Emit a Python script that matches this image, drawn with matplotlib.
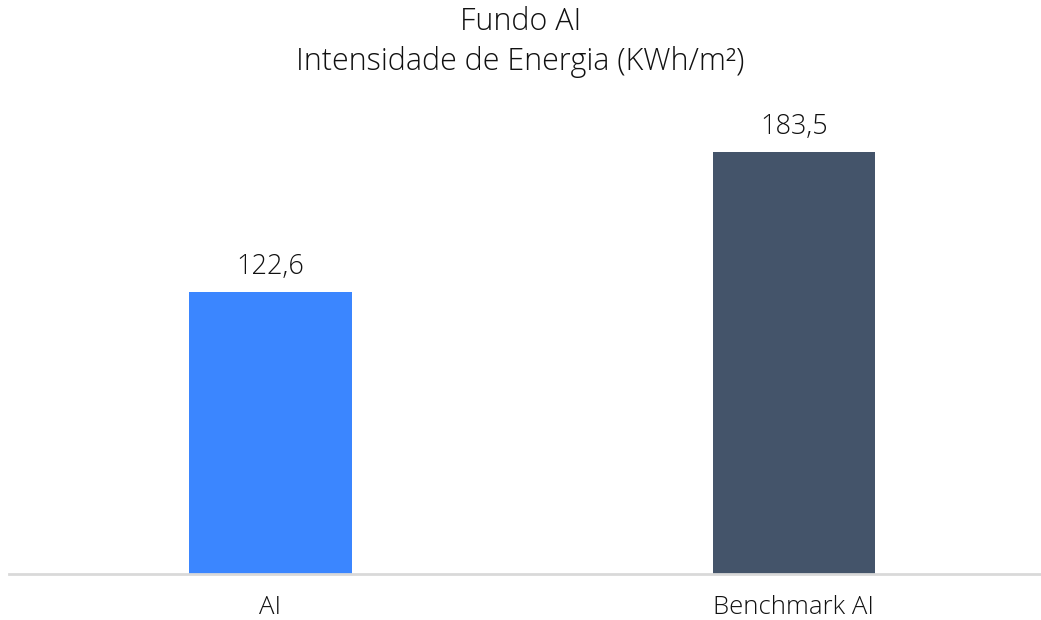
import matplotlib.pyplot as plt

# DATA

categories = ["AI", "Benchmark AI"]
values = [122.6, 183.5]
value_labels = ["122,6", "183,5"]
bar_colors = ["#3B86FF", "#44546A"]

title_lines = ["Fundo AI", "Intensidade de Energia (KWh/m²)"]

plt.rcParams["font.family"] = ["Open Sans", "DejaVu Sans"]
TEXT_COLOR = "#111111"


def main() -> None:
    fig = plt.figure(figsize=(10.41, 6.2), dpi=100)
    ax = fig.add_axes([9 / 1041, 46 / 620, 1032 / 1041, 460 / 620])

    x = range(len(categories))
    ax.bar(x, values, width=0.311, color=bar_colors, zorder=2)

    for xi, v, lab in zip(x, values, value_labels):
        ax.annotate(lab, (xi, v), xytext=(0, 8), textcoords="offset points",
                    ha="center", va="bottom", fontsize=19.5, color=TEXT_COLOR,
                    fontweight="light")

    ax.set_xlim(-0.4995, 1.472)
    ax.set_ylim(0, 200)

    ax.set_xticks(list(x))
    ax.set_xticklabels(categories, fontsize=18.5, color=TEXT_COLOR,
                       fontweight="light")
    ax.tick_params(axis="x", length=0, pad=15)
    ax.set_yticks([])

    for side in ["top", "right", "left"]:
        ax.spines[side].set_visible(False)
    ax.spines["bottom"].set_color("#d9d9d9")
    ax.spines["bottom"].set_linewidth(2)

    fig.text(0.5, 1 - 22 / 620, title_lines[0], ha="center", va="center",
             fontsize=22, color=TEXT_COLOR, fontweight="light")
    fig.text(0.5, 1 - 62 / 620, title_lines[1], ha="center", va="center",
             fontsize=22, color=TEXT_COLOR, fontweight="light")

    fig.savefig("out.png", dpi=100)
    plt.close(fig)


if __name__ == "__main__":
    main()
